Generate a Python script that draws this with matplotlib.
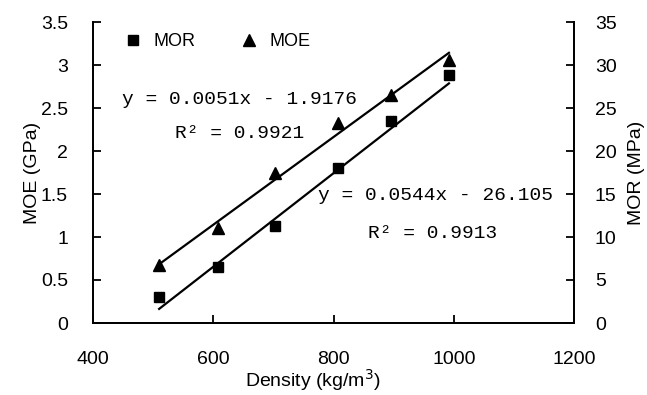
import numpy as np
import matplotlib
matplotlib.use("Agg")
import matplotlib.pyplot as plt
from matplotlib.lines import Line2D

# density of samples (kg/m3)
density = [510, 608, 703, 808, 896, 992]
# MOE (GPa), left axis
moe = [0.67, 1.10, 1.74, 2.33, 2.65, 3.06]
# MOR (MPa), right axis
mor = [3.0, 6.5, 11.3, 18.0, 23.5, 28.8]
# fitted lines as printed on the chart
moe_fit = (0.0051, -1.9176)
mor_fit = (0.0544, -26.105)
moe_eq = "y = 0.0051x - 1.9176"
moe_r2 = "R\u00b2 = 0.9921"
mor_eq = "y = 0.0544x - 26.105"
mor_r2 = "R\u00b2 = 0.9913"

sans = ["Liberation Sans", "DejaVu Sans"]
mono = ["Liberation Mono", "DejaVu Sans Mono"]
plt.rcParams["font.family"] = sans

W, H = 647, 395
fig = plt.figure(figsize=(W/100, H/100), dpi=100)
ax = fig.add_axes([93/W, 1-323/H, 481/W, 301/H])
ax2 = ax.twinx()

xs = np.array([density[0], density[-1]])
ax.plot(xs, moe_fit[0]*xs + moe_fit[1], color="black", lw=1.6)
ax.plot(density, moe, "^", color="black", ms=8, ls="none")
ax2.plot(xs, mor_fit[0]*xs + mor_fit[1], color="black", lw=1.6)
ax2.plot(density, mor, "s", color="black", ms=7, ls="none")

ax.set_xlim(400, 1200)
ax.set_ylim(0, 3.5)
ax2.set_ylim(0, 35)
ax.set_xticks([400, 600, 800, 1000, 1200])
ax.set_yticks(np.arange(0, 3.51, 0.5))
ax.set_yticklabels(["0", "0.5", "1", "1.5", "2", "2.5", "3", "3.5"])
ax2.set_yticks(range(0, 36, 5))

for a in (ax, ax2):
    a.spines["top"].set_visible(False)
    for s in a.spines.values():
        s.set_linewidth(1.3)
    a.tick_params(direction="in", length=6, width=1.3, labelsize=14)
ax.tick_params(axis="x", pad=20)
ax.tick_params(axis="y", pad=18)
ax2.tick_params(axis="y", pad=15)

ax.set_xlabel("Density (kg/m$^3$)", fontsize=14)
ax.xaxis.set_label_coords(0.457, -0.145)
ax.set_ylabel("MOE (GPa)", fontsize=14, labelpad=0)
ax2.set_ylabel("MOR (MPa)", fontsize=14, labelpad=8)

handles = [Line2D([], [], marker="s", color="black", ls="none", ms=7),
           Line2D([], [], marker="^", color="black", ls="none", ms=8)]
ax.legend(handles, ["MOR", "MOE"], ncol=2, frameon=False, loc="upper left",
          bbox_to_anchor=(0.031, 1.017), handlelength=1, handletextpad=0.6,
          columnspacing=2.5, fontsize=13)

def put(x, y, s):
    # positions in picture pixels from the top-left corner
    fig.text(x/W, 1 - y/H, s, fontsize=14, family=mono, va="center")

put(122, 100, moe_eq)
put(175, 133, moe_r2)
put(318, 196, mor_eq)
put(368, 233, mor_r2)

fig.savefig("out.png", dpi=100)
